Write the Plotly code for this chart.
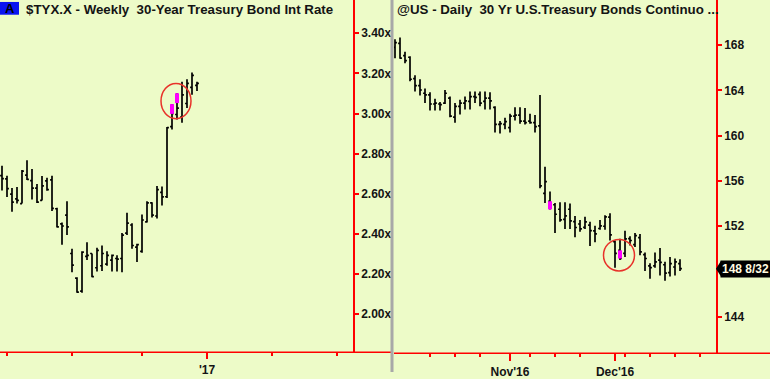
import plotly.graph_objects as go
import pandas as pd

# ---------------- data ----------------
# Left: $TYX.X weekly bars (Friday dated), first bar week ending 2016-03-25
W_START = "2016-03-25"
w_open = [2.690, 2.674, 2.598, 2.574, 2.551, 2.693, 2.665, 2.628, 2.567, 2.664,
          2.669, 2.525, 2.450, 2.493, 2.302, 2.179, 2.114, 2.288, 2.302, 2.231,
          2.241, 2.249, 2.269, 2.277, 2.277, 2.404, 2.444, 2.334, 2.313, 2.460,
          2.554, 2.489, 2.607, 2.585, 2.935, 2.995, 2.982, 3.050, 3.130, 3.140]
w_high = [2.739, 2.690, 2.628, 2.633, 2.718, 2.767, 2.723, 2.649, 2.688, 2.680,
          2.690, 2.530, 2.456, 2.563, 2.326, 2.184, 2.313, 2.358, 2.302, 2.331,
          2.342, 2.313, 2.297, 2.293, 2.404, 2.505, 2.453, 2.350, 2.497, 2.563,
          2.558, 2.639, 2.636, 2.933, 3.047, 3.101, 3.158, 3.171, 3.204, 3.158]
w_low = [2.616, 2.584, 2.510, 2.551, 2.551, 2.669, 2.571, 2.554, 2.566, 2.615,
         2.514, 2.432, 2.346, 2.394, 2.209, 2.106, 2.106, 2.269, 2.184, 2.212,
         2.215, 2.241, 2.212, 2.212, 2.209, 2.394, 2.326, 2.260, 2.306, 2.456,
         2.481, 2.476, 2.541, 2.579, 2.920, 2.970, 2.954, 3.028, 3.093, 3.112]
w_close = [2.675, 2.625, 2.558, 2.567, 2.713, 2.672, 2.628, 2.558, 2.639, 2.620,
           2.527, 2.435, 2.439, 2.435, 2.244, 2.109, 2.309, 2.293, 2.187, 2.318,
           2.302, 2.293, 2.293, 2.274, 2.394, 2.453, 2.342, 2.346, 2.469, 2.554,
           2.493, 2.620, 2.584, 2.930, 3.000, 3.027, 3.093, 3.150, 3.190, 3.150]
w_mark_idx = [34, 35]
w_mark_lo = [2.998, 3.052]
w_mark_hi = [3.047, 3.101]
w_yticks = [2.0, 2.2, 2.4, 2.6, 2.8, 3.0, 3.2, 3.4]

# Right: @US daily bars from 2016-09-29
D_START = "2016-09-29"
D_HOLIDAYS = ["2016-11-24"]
d_open = [167.80, 168.15, 167.07, 166.93, 165.05, 164.42, 163.75, 163.60, 162.80, 162.80,
          162.88, 163.32, 161.64, 162.60, 162.88, 163.03, 163.46, 163.66, 163.03, 163.32,
          162.51, 161.00, 161.00, 160.72, 161.73, 161.82, 161.29, 161.29, 161.15, 160.86,
          154.90, 154.20, 153.90, 153.50, 152.60, 153.50, 152.40, 152.20, 151.90, 152.10,
          151.60, 151.80, 152.00, 152.80, 150.65, 149.87, 149.60, 150.90, 150.37, 151.00,
          149.50, 148.50, 148.50, 149.00, 148.60, 147.90, 148.40, 148.70]
d_high = [168.52, 168.67, 167.42, 167.02, 165.34, 164.99, 164.18, 163.84, 163.26, 162.97,
          164.04, 163.46, 162.88, 163.17, 163.46, 163.90, 163.90, 163.90, 163.90, 163.84,
          162.60, 161.29, 161.58, 161.93, 162.51, 162.51, 162.45, 161.93, 161.82, 163.60,
          157.25, 155.08, 154.06, 154.12, 154.12, 154.01, 152.91, 152.56, 152.85, 152.39,
          152.04, 152.56, 152.97, 153.14, 150.74, 150.89, 151.61, 151.11, 151.41, 151.32,
          149.67, 148.72, 149.67, 150.07, 148.86, 149.29, 149.15, 149.09]
d_low = [166.85, 166.79, 166.41, 164.82, 163.90, 163.55, 162.88, 162.22, 162.22, 162.22,
         162.80, 161.64, 161.15, 161.87, 162.31, 162.31, 162.88, 162.60, 162.31, 162.31,
         160.28, 160.19, 160.57, 160.28, 161.35, 161.06, 161.00, 161.06, 160.28, 155.36,
         154.06, 153.49, 151.41, 152.39, 151.76, 151.76, 151.03, 151.52, 151.76, 150.25,
         150.59, 151.70, 151.70, 150.74, 148.34, 149.01, 149.29, 150.31, 150.16, 149.44,
         148.05, 147.36, 148.34, 147.65, 147.19, 147.56, 147.65, 148.05]
d_close = [168.23, 166.85, 166.64, 164.99, 164.42, 164.04, 163.60, 162.80, 162.88, 162.74,
           163.75, 161.73, 162.60, 162.88, 163.08, 163.46, 163.38, 162.88, 163.32, 163.08,
           161.00, 161.06, 161.24, 161.73, 161.82, 161.29, 161.15, 161.15, 160.80, 155.57,
           155.94, 153.60, 153.06, 152.56, 152.91, 152.48, 151.89, 151.76, 152.39, 151.61,
           151.32, 152.04, 152.82, 151.23, 149.61, 149.15, 150.89, 150.74, 151.18, 149.73,
           149.15, 148.34, 148.86, 148.81, 147.85, 148.70, 148.86, 148.25]
d_mark_idx = [31, 45]
d_mark_lo = [153.49, 149.15]
d_mark_hi = [154.21, 149.87]
d_yticks = [144, 152, 156, 160, 164, 168]
MONTH_LABELS = ["Nov'16", "Dec'16"]
LAST_LABEL = "148 8/32"

LEFT_TITLE = "$TYX.X - Weekly\u00a0 30-Year Treasury Bond Int Rate"
RIGHT_TITLE = "@US - Daily\u00a0 30 Yr U.S.Treasury Bonds Continuo ..."

# ---------------- layout constants ----------------
W, H = 770, 379
BG = "#EDFBC8"
RED = "#FF0000"
TXT = "#141414"
MAGENTA = "#FF00FF"
px = lambda v: v / W
py = lambda v: 1 - v / H

# ---------------- tick computation ----------------
w_dates = pd.date_range(W_START, periods=75, freq="7D")
w_major, w_major_txt, w_minor = [], [], []
for k, d in enumerate(w_dates):
    if d.month in (1, 4, 7, 10) and d.day <= 7:
        if d.month == 1:
            w_major.append(k)
            w_major_txt.append("'" + d.strftime("%y"))
        else:
            w_minor.append(k)

d_dates = pd.bdate_range(D_START, "2017-01-10", freq="C", holidays=D_HOLIDAYS)
wk = [tuple(d.isocalendar())[:2] for d in d_dates]
month_start = [k for k in range(1, len(d_dates)) if d_dates[k].month != d_dates[k - 1].month]
ms_weeks = {wk[k] for k in month_start}
d_minor = [k for k in range(1, len(d_dates)) if wk[k] != wk[k - 1] and wk[k] not in ms_weeks]
d_major, d_major_txt = [], []
for k in month_start:
    lab = d_dates[k].strftime("%b'%y")
    if lab in MONTH_LABELS:
        d_major.append(k)
        d_major_txt.append(lab)

wx = list(range(len(w_open)))
dx = list(range(len(d_open)))


def seg(idx, lo, hi):
    xs, ys = [], []
    for i, a, b in zip(idx, lo, hi):
        xs += [i, i, None]
        ys += [a, b, None]
    return xs, ys


fig = go.Figure()
bar_line = dict(color="black", width=1.7)
fig.add_trace(go.Ohlc(x=wx, open=w_open, high=w_high, low=w_low, close=w_close,
                      xaxis="x", yaxis="y", tickwidth=0.38,
                      increasing=dict(line=bar_line), decreasing=dict(line=bar_line),
                      hoverinfo="skip", showlegend=False))
mx, my = seg(w_mark_idx, w_mark_lo, w_mark_hi)
fig.add_trace(go.Scatter(x=mx, y=my, mode="lines", line=dict(color=MAGENTA, width=4),
                         xaxis="x", yaxis="y", hoverinfo="skip", showlegend=False))
fig.add_trace(go.Ohlc(x=dx, open=d_open, high=d_high, low=d_low, close=d_close,
                      xaxis="x2", yaxis="y2", tickwidth=0.38,
                      increasing=dict(line=bar_line), decreasing=dict(line=bar_line),
                      hoverinfo="skip", showlegend=False))
mx, my = seg(d_mark_idx, d_mark_lo, d_mark_hi)
fig.add_trace(go.Scatter(x=mx, y=my, mode="lines", line=dict(color=MAGENTA, width=4),
                         xaxis="x2", yaxis="y2", hoverinfo="skip", showlegend=False))

tickfont = dict(family="Arial, Liberation Sans", size=12, color=TXT, weight="bold")

fig.update_layout(
    width=W, height=H, margin=dict(l=0, r=0, t=0, b=0),
    paper_bgcolor=BG, plot_bgcolor=BG, showlegend=False,
    xaxis=dict(domain=[0, px(353)], range=[-0.4, 70.2], rangeslider=dict(visible=False),
               showgrid=False, zeroline=False, showline=False,
               tickmode="array", tickvals=w_major, ticktext=w_major_txt,
               ticks="outside", ticklen=6, tickcolor=RED, tickwidth=1.5,
               minor=dict(tickmode="array", tickvals=w_minor, ticks="outside",
                          ticklen=3, tickcolor=RED, tickwidth=1.5),
               tickfont=tickfont, anchor="y"),
    yaxis=dict(domain=[1 - 359 / H, 1], range=[1.809, 3.566], side="right",
               showgrid=False, zeroline=False, showline=True, linecolor=RED, linewidth=1.5,
               tickmode="array", tickvals=w_yticks,
               ticktext=[f"{v:.2f}x" for v in w_yticks],
               ticks="outside", ticklen=4, tickcolor=RED, tickwidth=1.5,
               tickfont=tickfont, anchor="x"),
    xaxis2=dict(domain=[px(394), px(716)], range=[-0.2, 64.2], rangeslider=dict(visible=False),
                showgrid=False, zeroline=False, showline=False,
                tickmode="array", tickvals=d_major, ticktext=d_major_txt,
                ticks="outside", ticklen=7, tickcolor=RED, tickwidth=1.5,
                minor=dict(tickmode="array", tickvals=d_minor, ticks="outside",
                           ticklen=3, tickcolor=RED, tickwidth=1.5),
                tickfont=tickfont, anchor="y2"),
    yaxis2=dict(domain=[1 - 360 / H, 1], range=[140.77, 171.99], side="right",
                showgrid=False, zeroline=False, showline=True, linecolor=RED, linewidth=1.5,
                tickmode="array", tickvals=d_yticks, ticktext=[str(v) for v in d_yticks],
                ticks="outside", ticklen=4, tickcolor=RED, tickwidth=1.5,
                tickfont=tickfont, anchor="x2"),
)

shapes = [
    dict(type="line", xref="paper", yref="paper", x0=0, x1=px(391), y0=py(359), y1=py(359),
         line=dict(color=RED, width=1.5)),
    dict(type="line", xref="paper", yref="paper", x0=px(394), x1=1, y0=py(360), y1=py(360),
         line=dict(color=RED, width=1.5)),
    dict(type="rect", xref="paper", yref="paper", x0=px(390.5), x1=px(393.5), y0=0, y1=1,
         fillcolor="#A8A8A8", line=dict(width=0)),
    dict(type="rect", xref="paper", yref="paper", x0=0, x1=px(19), y0=py(15), y1=py(2),
         fillcolor="#0A14F0", line=dict(width=0)),
    dict(type="circle", xref="x", yref="y", x0=31.8, x1=37.8, y0=2.974, y1=3.150,
         line=dict(color="#E8322A", width=1.5)),
    dict(type="circle", xref="x2", yref="y2", x0=41.7, x1=47.9, y0=148.05, y1=150.83,
         line=dict(color="#E8322A", width=1.5)),
    dict(type="path", xref="paper", yref="y2",
         path=f"M {px(716)} 148.25 L {px(721)} {148.25 + 0.7} L {px(721)} {148.25 - 0.7} Z",
         fillcolor="black", line=dict(width=0)),
]
fig.update_layout(shapes=shapes)

ann_font = dict(family="Arial, Liberation Sans", size=13.3, color=TXT)
fig.add_annotation(xref="paper", yref="paper", x=px(9.5), y=py(9), text="<b>A</b>",
                   showarrow=False, font=dict(family="Arial, Liberation Sans", size=13, color="black"),
                   xanchor="center", yanchor="middle")
fig.add_annotation(xref="paper", yref="paper", x=px(24), y=py(9.5), text=f"<b>{LEFT_TITLE}</b>",
                   showarrow=False, font=ann_font, xanchor="left", yanchor="middle")
fig.add_annotation(xref="paper", yref="paper", x=px(395), y=py(9.5), text=f"<b>{RIGHT_TITLE}</b>",
                   showarrow=False, font=ann_font, xanchor="left", yanchor="middle")
fig.add_annotation(xref="paper", yref="y2", x=px(720), y=d_close[-1], text=f"<b>{LAST_LABEL}</b>",
                   showarrow=False, bgcolor="black", borderpad=1,
                   font=dict(family="Arial, Liberation Sans", size=12, color="#FFFBE0"),
                   xanchor="left", yanchor="middle")

fig.write_html("out.html", config={"displayModeBar": False},
               post_script="document.body.style.margin='0';document.body.style.overflow='hidden';")
